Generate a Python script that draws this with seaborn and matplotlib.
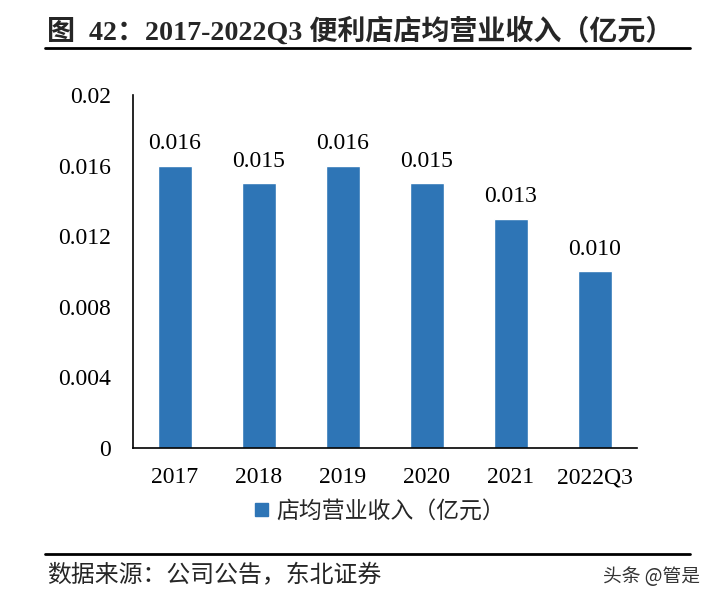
import matplotlib
matplotlib.use('Agg')
import matplotlib.pyplot as plt
import seaborn as sns
import pandas as pd

# chart data
years = ['2017', '2018', '2019', '2020', '2021', '2022Q3']
revenue = [0.016, 0.015, 0.016, 0.015, 0.013, 0.010]
bar_labels = ['0.016', '0.015', '0.016', '0.015', '0.013', '0.010']
y_ticks = [0, 0.004, 0.008, 0.012, 0.016, 0.02]
y_tick_labels = ['0', '0.004', '0.008', '0.012', '0.016', '0.02']
series_name = '店均营业收入（亿元）'

df = pd.DataFrame({'year': years, 'value': revenue, 'series': series_name})

sns.set_theme(style='white')
fonts = ['Liberation Serif', 'Noto Sans CJK SC', 'DejaVu Sans']
plt.rcParams['font.family'] = fonts

bar_color = '#2E75B6'

fig = plt.figure(figsize=(7.09, 6.0), dpi=100)
ax = fig.add_axes([0.1876, 0.2533, 0.7104, 0.5884])

sns.barplot(data=df, x='year', y='value', hue='series', palette=[bar_color],
            width=0.41, ax=ax, legend=False, saturation=1)

ax.set_ylim(0, 0.02)
ax.set_xlim(-0.5, len(years) - 0.5)
ax.set_yticks(y_ticks)
ax.set_yticklabels(y_tick_labels)
ax.set_xlabel('')
ax.set_ylabel('')
ax.tick_params(axis='y', direction='in', length=5, width=1.2, labelsize=17, pad=16, color='black')
ax.tick_params(axis='x', length=0, labelsize=17, pad=14)
for t in ax.get_xticklabels() + ax.get_yticklabels():
    t.set_color('black')

sns.despine(ax=ax, top=True, right=True)
ax.spines['left'].set_color('black')
ax.spines['bottom'].set_color('black')
ax.spines['left'].set_linewidth(1.2)
ax.spines['bottom'].set_linewidth(1.2)

ax.bar_label(ax.containers[0], labels=bar_labels, padding=8, fontsize=17, color='black')

# legend
handle = plt.Rectangle((0, 0), 1, 1, color=bar_color)
fig.legend([handle], [series_name], loc='center', bbox_to_anchor=(0.536, 0.148),
           frameon=False, handlelength=0.55, handleheight=0.55,
           handletextpad=0.35, prop={'family': ['Noto Sans CJK SC'], 'size': 16.5})

# title and rules
fig.text(0.066, 0.948, '图  42：2017-2022Q3 便利店店均营业收入（亿元）', fontsize=20.2,
         fontweight='bold', va='center', ha='left', family=fonts)
fig.add_artist(plt.Line2D([0.063, 0.973], [0.92, 0.92], color='black', lw=2))
fig.add_artist(plt.Line2D([0.063, 0.973], [0.077, 0.077], color='black', lw=2))
fig.text(0.066, 0.04, '数据来源：公司公告，东北证券', fontsize=17.2, va='center', ha='left',
         family=['Noto Sans CJK SC'])
fig.text(0.988, 0.04, '头条 @管是', fontsize=13.5, va='center', ha='right',
         family=['Noto Sans CJK SC'], color='#333333')

fig.savefig('out.png', dpi=100)
